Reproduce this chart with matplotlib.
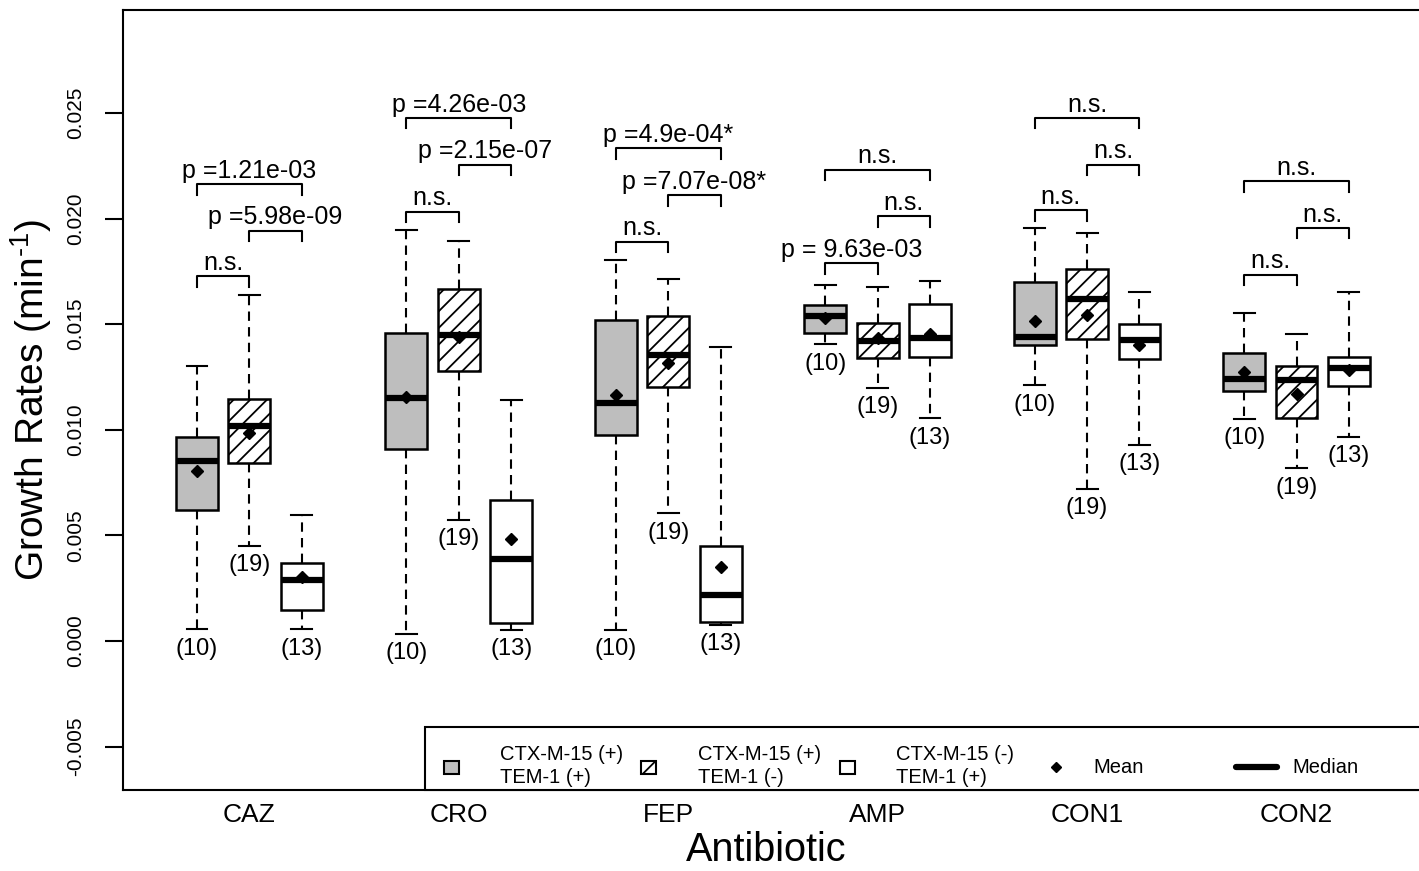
import matplotlib
matplotlib.use("Agg")
import matplotlib.pyplot as plt
from matplotlib.patches import Rectangle
from matplotlib.lines import Line2D

plt.rcParams['font.family'] = ['Liberation Sans', 'DejaVu Sans']
plt.rcParams['mathtext.fontset'] = 'custom'
plt.rcParams['mathtext.rm'] = 'Liberation Sans'
plt.rcParams['mathtext.it'] = 'Liberation Sans:italic'
plt.rcParams['hatch.linewidth'] = 1.3

W, H = 1419, 871

ANTIBIOTICS = ['CAZ', 'CRO', 'FEP', 'AMP', 'CON1', 'CON2']
GROUP_LABELS = ['CTX-M-15 (+)\nTEM-1 (+)', 'CTX-M-15 (+)\nTEM-1 (-)', 'CTX-M-15 (-)\nTEM-1 (+)']
COUNTS = [10, 19, 13]

# one row per antibiotic, columns = [grey, hatched, white]
WHIS_LO = [[0.00055, 0.00450, 0.00055],
           [0.00035, 0.00574, 0.00053],
           [0.00054, 0.00604, 0.00076],
           [0.01406, 0.01198, 0.01055],
           [0.01210, 0.00720, 0.00929],
           [0.01051, 0.00818, 0.00968]]
Q1 = [[0.00621, 0.00845, 0.00147],
      [0.00907, 0.01279, 0.00084],
      [0.00976, 0.01205, 0.00088],
      [0.01458, 0.01340, 0.01347],
      [0.01403, 0.01430, 0.01335],
      [0.01182, 0.01058, 0.01209]]
MEDIAN = [[0.00850, 0.01016, 0.00289],
          [0.01152, 0.01451, 0.00389],
          [0.01125, 0.01352, 0.00220],
          [0.01537, 0.01419, 0.01437],
          [0.01439, 0.01619, 0.01427],
          [0.01240, 0.01237, 0.01292]]
Q3 = [[0.00965, 0.01146, 0.00371],
      [0.01460, 0.01669, 0.00667],
      [0.01518, 0.01538, 0.00448],
      [0.01589, 0.01504, 0.01597],
      [0.01698, 0.01763, 0.01501],
      [0.01366, 0.01300, 0.01347]]
WHIS_HI = [[0.01303, 0.01637, 0.00597],
           [0.01945, 0.01896, 0.01142],
           [0.01806, 0.01713, 0.01391],
           [0.01684, 0.01676, 0.01703],
           [0.01956, 0.01932, 0.01653],
           [0.01553, 0.01455, 0.01651]]
MEAN = [[0.00806, 0.00986, 0.00303],
        [0.01155, 0.01438, 0.00483],
        [0.01163, 0.01318, 0.00350],
        [0.01528, 0.01433, 0.01455],
        [0.01513, 0.01545, 0.01403],
        [0.01276, 0.01171, 0.01284]]

# comparisons (grey-hatched, hatched-white, grey-white)
PAIRS = [(0, 1), (1, 2), (0, 2)]
P_LABELS = [['n.s.', 'p =5.98e-09', 'p =1.21e-03'],
            ['n.s.', 'p =2.15e-07', 'p =4.26e-03'],
            ['n.s.', 'p =7.07e-08*', 'p =4.9e-04*'],
            ['p = 9.63e-03', 'n.s.', 'n.s.'],
            ['n.s.', 'n.s.', 'n.s.'],
            ['n.s.', 'n.s.', 'n.s.']]
BRACKET_Y = [[0.01727, 0.01943, 0.02164],
             [0.02033, 0.02256, 0.02477],
             [0.01891, 0.02110, 0.02334],
             [0.01790, 0.02011, 0.02232],
             [0.02039, 0.02256, 0.02477],
             [0.01735, 0.01956, 0.02177]]

FILLS = ['#bebebe', 'white', 'white']
HATCHES = ['', '//', '']


def fx(px):
    return px / W


def fy(py):
    return 1 - py / H


fig = plt.figure(figsize=(W / 100, H / 100), dpi=100)
ax = fig.add_axes([fx(123), fy(790), fx(1440) - fx(123), fy(10) - fy(790)])

stats = []
positions = []
for i in range(len(ANTIBIOTICS)):
    for g in range(3):
        stats.append(dict(whislo=WHIS_LO[i][g], q1=Q1[i][g], med=MEDIAN[i][g],
                          q3=Q3[i][g], whishi=WHIS_HI[i][g], mean=MEAN[i][g], fliers=[]))
        positions.append(4 * i + g + 1)

bp = ax.bxp(stats, positions=positions, widths=0.8, capwidths=0.4,
            patch_artist=True, showmeans=True, showfliers=False,
            boxprops=dict(edgecolor='black', linewidth=1.8),
            medianprops=dict(color='black', linewidth=4.5, solid_capstyle='butt'),
            whiskerprops=dict(color='black', linewidth=1.5, linestyle=(0, (4.5, 3))),
            capprops=dict(color='black', linewidth=1.5),
            meanprops=dict(marker='D', markerfacecolor='black', markeredgecolor='black',
                           markersize=6))
for k, patch in enumerate(bp['boxes']):
    patch.set_facecolor(FILLS[k % 3])
    patch.set_hatch(HATCHES[k % 3])

leg = 0.0005
for i in range(len(ANTIBIOTICS)):
    for k, (a, b) in enumerate(PAIRS):
        x1 = 4 * i + a + 1
        x2 = 4 * i + b + 1
        y = BRACKET_Y[i][k]
        ax.plot([x1, x1, x2, x2], [y - leg, y, y, y - leg], color='black', lw=1.5)
        ax.text((x1 + x2) / 2, y + 0.0003, P_LABELS[i][k], ha='center', va='baseline',
                fontsize=18)
    for g in range(3):
        ax.text(4 * i + g + 1, WHIS_LO[i][g] - 0.0004, '(%d)' % COUNTS[g],
                ha='center', va='top', fontsize=17)

ax.set_xlim(-0.413, 24.74)
ax.set_ylim(-0.007055, 0.029877)
ax.set_xticks([4 * i + 2 for i in range(len(ANTIBIOTICS))])
ax.set_xticklabels(ANTIBIOTICS, fontsize=19)
ax.tick_params(axis='x', length=0, pad=9)
ax.set_yticks([-0.005, 0.0, 0.005, 0.010, 0.015, 0.020, 0.025])
ax.set_yticklabels(['-0.005', '0.000', '0.005', '0.010', '0.015', '0.020', '0.025'],
                   rotation=90, va='center', fontsize=15)
ax.tick_params(axis='y', length=13, width=1.5, pad=14)
for s in ax.spines.values():
    s.set_linewidth(1.5)
ax.set_ylabel(r'Growth Rates (min$^{\text{-}1}$)', fontsize=28, labelpad=9)
# x title sits under the visible part of the panel, not the full axes width
fig.text(fx(766), fy(861), 'Antibiotic', ha='center', va='baseline', fontsize=28.5)

# legend panel
fig.patches.append(Rectangle((fx(425), fy(790)), fx(1445) - fx(425), fy(727) - fy(790),
                             transform=fig.transFigure, facecolor='white',
                             edgecolor='black', linewidth=1.5, zorder=5))
sq_w, sq_h = fx(15) - fx(0), fy(0) - fy(13)
for cx, tx, g in [(451, 500, 0), (648, 698, 1), (847, 896, 2)]:
    fig.patches.append(Rectangle((fx(cx) - sq_w / 2, fy(767) - sq_h / 2), sq_w, sq_h,
                                 transform=fig.transFigure, facecolor=FILLS[g],
                                 hatch=HATCHES[g], edgecolor='black', linewidth=1.5,
                                 zorder=6))
    fig.text(fx(tx), fy(766), GROUP_LABELS[g], ha='left', va='center', fontsize=14.5,
             linespacing=1.3, zorder=6)
fig.lines.append(Line2D([fx(1056)], [fy(767)], marker='D', color='black',
                        markersize=5.5, transform=fig.transFigure, zorder=6))
fig.text(fx(1093), fy(767), 'Mean', ha='left', va='center', fontsize=14.5, zorder=6)
fig.lines.append(Line2D([fx(1236), fx(1277)], [fy(767), fy(767)], color='black',
                        lw=4.5, solid_capstyle='round', transform=fig.transFigure, zorder=6))
fig.text(fx(1292), fy(767), 'Median', ha='left', va='center', fontsize=14.5, zorder=6)

fig.savefig('out.png', dpi=100)
